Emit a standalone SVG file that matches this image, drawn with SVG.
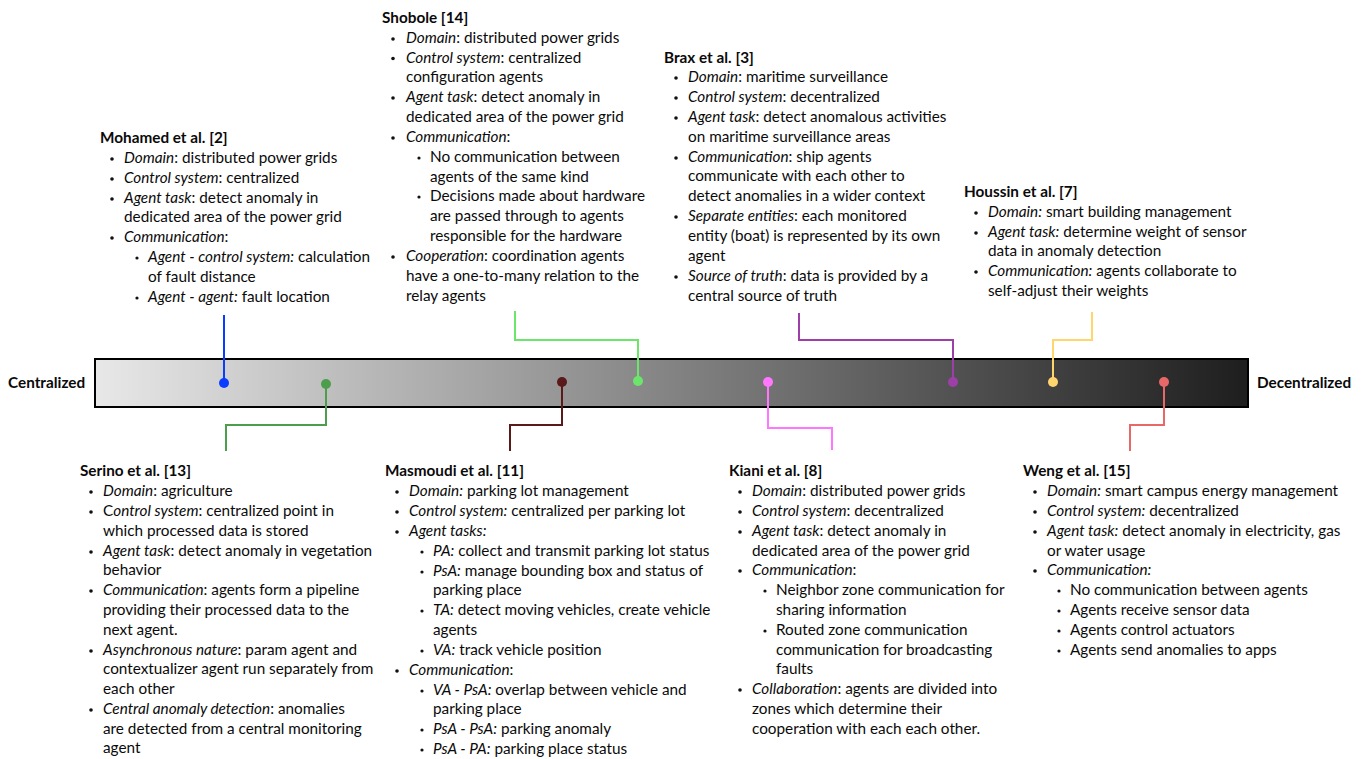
<svg xmlns="http://www.w3.org/2000/svg" width="1368" height="759" viewBox="0 0 1368 759">
<style>
text{font-family:Lato,"Source Sans Pro","Noto Sans",sans-serif;font-size:15.3px;fill:#0a0a0a}
.t{font-weight:bold}
.i{font-style:italic}
.b{fill:#111}
.end{font-weight:bold;font-size:15.3px}
.c{fill:none;stroke-width:2}
</style>
<defs>
<linearGradient id="g" x1="0" y1="0" x2="1" y2="0">
<stop offset="0" stop-color="#e8e8e8"/>
<stop offset="1" stop-color="#1e1e1e"/>
</linearGradient>
</defs>
<rect width="1368" height="759" fill="#fff"/>

<g id="scale">
<rect x="95" y="359" width="1153" height="48" fill="url(#g)" stroke="#000" stroke-width="2"/>
<text class="end" x="8" y="388">Centralized</text>
<text class="end" x="1257" y="388">Decentralized</text>
</g>

<g id="connectors">
<path class="c" stroke="#0a3cff" d="M224 315V383"/><circle cx="224" cy="383" r="5" fill="#0a3cff"/>
<path class="c" stroke="#4c9e4c" d="M326 384V425H226V451"/><circle cx="326" cy="384" r="5" fill="#4c9e4c"/>
<path class="c" stroke="#5a1a1a" d="M562 382V425H510V451"/><circle cx="562" cy="382" r="5" fill="#5a1a1a"/>
<path class="c" stroke="#6be66b" d="M515 311V340H638V381"/><circle cx="638" cy="381" r="5" fill="#6be66b"/>
<path class="c" stroke="#ff77ff" d="M768 382V428H832V450"/><circle cx="768" cy="382" r="5" fill="#ff77ff"/>
<path class="c" stroke="#9c40a8" d="M799 313V340H953V382"/><circle cx="953" cy="382" r="5" fill="#9c40a8"/>
<path class="c" stroke="#ffd56e" d="M1092 312V340H1053V382"/><circle cx="1053" cy="382" r="5" fill="#ffd56e"/>
<path class="c" stroke="#e86868" d="M1164 382V425H1130V451"/><circle cx="1164" cy="382" r="5" fill="#e86868"/>
</g>

<g id="shobole">
<text class="t" x="382" y="23">Shobole [14]</text>
<circle class="b" cx="393" cy="39" r="1.8"/><text x="406" y="43"><tspan class="i">Domain</tspan>: distributed power grids</text>
<circle class="b" cx="393" cy="58.5" r="1.8"/><text x="406" y="62.5"><tspan class="i">Control system</tspan>: centralized</text>
<text x="406" y="82">configuration agents</text>
<circle class="b" cx="393" cy="98" r="1.8"/><text x="406" y="102"><tspan class="i">Agent task</tspan>: detect anomaly in</text>
<text x="406" y="122">dedicated area of the power grid</text>
<circle class="b" cx="393" cy="138" r="1.8"/><text x="406" y="142"><tspan class="i">Communication</tspan>:</text>
<circle class="b" cx="419" cy="158" r="1.6"/><text x="430" y="162">No communication between</text>
<text x="430" y="182">agents of the same kind</text>
<circle class="b" cx="419" cy="197" r="1.6"/><text x="430" y="201">Decisions made about hardware</text>
<text x="430" y="221">are passed through to agents</text>
<text x="430" y="241">responsible for the hardware</text>
<circle class="b" cx="393" cy="257" r="1.8"/><text x="406" y="261"><tspan class="i">Cooperation</tspan>: coordination agents</text>
<text x="406" y="281">have a one-to-many relation to the</text>
<text x="406" y="301">relay agents</text>
</g>

<g id="brax">
<text class="t" x="664" y="63">Brax et al. [3]</text>
<circle class="b" cx="676" cy="78" r="1.8"/><text x="688" y="82"><tspan class="i">Domain</tspan>: maritime surveillance</text>
<circle class="b" cx="676" cy="98" r="1.8"/><text x="688" y="102"><tspan class="i">Control system</tspan>: decentralized</text>
<circle class="b" cx="676" cy="118" r="1.8"/><text x="688" y="122"><tspan class="i">Agent task</tspan>: detect anomalous activities</text>
<text x="688" y="142">on maritime surveillance areas</text>
<circle class="b" cx="676" cy="158" r="1.8"/><text x="688" y="162"><tspan class="i">Communication</tspan>: ship agents</text>
<text x="688" y="181">communicate with each other to</text>
<text x="688" y="201">detect anomalies in a wider context</text>
<circle class="b" cx="676" cy="217" r="1.8"/><text x="688" y="221"><tspan class="i">Separate entities</tspan>: each monitored</text>
<text x="688" y="241">entity (boat) is represented by its own</text>
<text x="688" y="261">agent</text>
<circle class="b" cx="676" cy="277" r="1.8"/><text x="688" y="281"><tspan class="i">Source of truth</tspan>: data is provided by a</text>
<text x="688" y="301">central source of truth</text>
</g>

<g id="mohamed">
<text class="t" x="100" y="143">Mohamed et al. [2]</text>
<circle class="b" cx="112" cy="159" r="1.8"/><text x="124" y="163"><tspan class="i">Domain</tspan>: distributed power grids</text>
<circle class="b" cx="112" cy="179" r="1.8"/><text x="124" y="183"><tspan class="i">Control system</tspan>: centralized</text>
<circle class="b" cx="112" cy="199" r="1.8"/><text x="124" y="203"><tspan class="i">Agent task</tspan>: detect anomaly in</text>
<text x="124" y="222">dedicated area of the power grid</text>
<circle class="b" cx="112" cy="238" r="1.8"/><text x="124" y="242"><tspan class="i">Communication</tspan>:</text>
<circle class="b" cx="137" cy="258" r="1.6"/><text x="148" y="262"><tspan class="i">Agent - control system:</tspan> calculation</text>
<text x="148" y="282">of fault distance</text>
<circle class="b" cx="137" cy="298" r="1.6"/><text x="148" y="302"><tspan class="i">Agent - agent:</tspan> fault location</text>
</g>

<g id="houssin">
<text class="t" x="964" y="197">Houssin et al. [7]</text>
<circle class="b" cx="976" cy="213" r="1.8"/><text x="988" y="217"><tspan class="i">Domain:</tspan> smart building management</text>
<circle class="b" cx="976" cy="233" r="1.8"/><text x="988" y="237"><tspan class="i">Agent task:</tspan> determine weight of sensor</text>
<text x="988" y="256">data in anomaly detection</text>
<circle class="b" cx="976" cy="272" r="1.8"/><text x="988" y="276"><tspan class="i">Communication:</tspan> agents collaborate to</text>
<text x="988" y="296">self-adjust their weights</text>
</g>

<g id="serino">
<text class="t" x="80" y="476">Serino et al. [13]</text>
<circle class="b" cx="91" cy="492" r="1.8"/><text x="103" y="496"><tspan class="i">Domain</tspan>: agriculture</text>
<circle class="b" cx="91" cy="512" r="1.8"/><text x="103" y="516">C<tspan class="i">ontrol system</tspan>: centralized point in</text>
<text x="103" y="536">which processed data is stored</text>
<circle class="b" cx="91" cy="552" r="1.8"/><text x="103" y="556"><tspan class="i">Agent task</tspan>: detect anomaly in vegetation</text>
<text x="103" y="575">behavior</text>
<circle class="b" cx="91" cy="591" r="1.8"/><text x="103" y="595"><tspan class="i">Communication</tspan>: agents form a pipeline</text>
<text x="103" y="615">providing their processed data to the</text>
<text x="103" y="635">next agent.</text>
<circle class="b" cx="91" cy="651" r="1.8"/><text x="103" y="655"><tspan class="i">Asynchronous nature</tspan>: param agent and</text>
<text x="103" y="674">contextualizer agent run separately from</text>
<text x="103" y="694">each other</text>
<circle class="b" cx="91" cy="710" r="1.8"/><text x="103" y="714"><tspan class="i">Central anomaly detection</tspan>: anomalies</text>
<text x="103" y="734">are detected from a central monitoring</text>
<text x="103" y="753">agent</text>
</g>

<g id="masmoudi">
<text class="t" x="385" y="476">Masmoudi et al. [11]</text>
<circle class="b" cx="397" cy="492" r="1.8"/><text x="409" y="496"><tspan class="i">Domain:</tspan> parking lot management</text>
<circle class="b" cx="397" cy="512" r="1.8"/><text x="409" y="516"><tspan class="i">Control system:</tspan> centralized per parking lot</text>
<circle class="b" cx="397" cy="532" r="1.8"/><text x="409" y="536"><tspan class="i">Agent tasks:</tspan></text>
<circle class="b" cx="422" cy="552" r="1.6"/><text x="433" y="556"><tspan class="i">PA:</tspan> collect and transmit parking lot status</text>
<circle class="b" cx="422" cy="572" r="1.6"/><text x="433" y="576"><tspan class="i">PsA:</tspan> manage bounding box and status of</text>
<text x="433" y="595">parking place</text>
<circle class="b" cx="422" cy="611" r="1.6"/><text x="433" y="615"><tspan class="i">TA:</tspan> detect moving vehicles, create vehicle</text>
<text x="433" y="635">agents</text>
<circle class="b" cx="422" cy="651" r="1.6"/><text x="433" y="655"><tspan class="i">VA:</tspan> track vehicle position</text>
<circle class="b" cx="397" cy="671" r="1.8"/><text x="409" y="675"><tspan class="i">Communication</tspan>:</text>
<circle class="b" cx="422" cy="691" r="1.6"/><text x="433" y="695"><tspan class="i">VA - PsA:</tspan> overlap between vehicle and</text>
<text x="433" y="714">parking place</text>
<circle class="b" cx="422" cy="730" r="1.6"/><text x="433" y="734"><tspan class="i">PsA - PsA:</tspan> parking anomaly</text>
<circle class="b" cx="422" cy="750" r="1.6"/><text x="433" y="754"><tspan class="i">PsA - PA:</tspan> parking place status</text>
</g>

<g id="kiani">
<text class="t" x="729" y="476">Kiani et al. [8]</text>
<circle class="b" cx="740" cy="492" r="1.8"/><text x="752" y="496"><tspan class="i">Domain</tspan>: distributed power grids</text>
<circle class="b" cx="740" cy="512" r="1.8"/><text x="752" y="516"><tspan class="i">Control system</tspan>: decentralized</text>
<circle class="b" cx="740" cy="532" r="1.8"/><text x="752" y="536"><tspan class="i">Agent task</tspan>: detect anomaly in</text>
<text x="752" y="556">dedicated area of the power grid</text>
<circle class="b" cx="740" cy="571" r="1.8"/><text x="752" y="575"><tspan class="i">Communication</tspan>:</text>
<circle class="b" cx="765" cy="591" r="1.6"/><text x="776" y="595">Neighbor zone communication for</text>
<text x="776" y="615">sharing information</text>
<circle class="b" cx="765" cy="631" r="1.6"/><text x="776" y="635">Routed zone communication</text>
<text x="776" y="655">communication for broadcasting</text>
<text x="776" y="674">faults</text>
<circle class="b" cx="740" cy="690" r="1.8"/><text x="752" y="694"><tspan class="i">Collaboration</tspan>: agents are divided into</text>
<text x="752" y="714">zones which determine their</text>
<text x="752" y="734">cooperation with each each other.</text>
</g>

<g id="weng">
<text class="t" x="1023" y="476">Weng et al. [15]</text>
<circle class="b" cx="1035" cy="492" r="1.8"/><text x="1047" y="496"><tspan class="i">Domain:</tspan> smart campus energy management</text>
<circle class="b" cx="1035" cy="512" r="1.8"/><text x="1047" y="516"><tspan class="i">Control system:</tspan> decentralized</text>
<circle class="b" cx="1035" cy="532" r="1.8"/><text x="1047" y="536"><tspan class="i">Agent task:</tspan> detect anomaly in electricity, gas</text>
<text x="1047" y="556">or water usage</text>
<circle class="b" cx="1035" cy="571" r="1.8"/><text x="1047" y="575"><tspan class="i">Communication:</tspan></text>
<circle class="b" cx="1059" cy="591" r="1.6"/><text x="1070" y="595">No communication between agents</text>
<circle class="b" cx="1059" cy="611" r="1.6"/><text x="1070" y="615">Agents receive sensor data</text>
<circle class="b" cx="1059" cy="631" r="1.6"/><text x="1070" y="635">Agents control actuators</text>
<circle class="b" cx="1059" cy="651" r="1.6"/><text x="1070" y="655">Agents send anomalies to apps</text>
</g>
</svg>
